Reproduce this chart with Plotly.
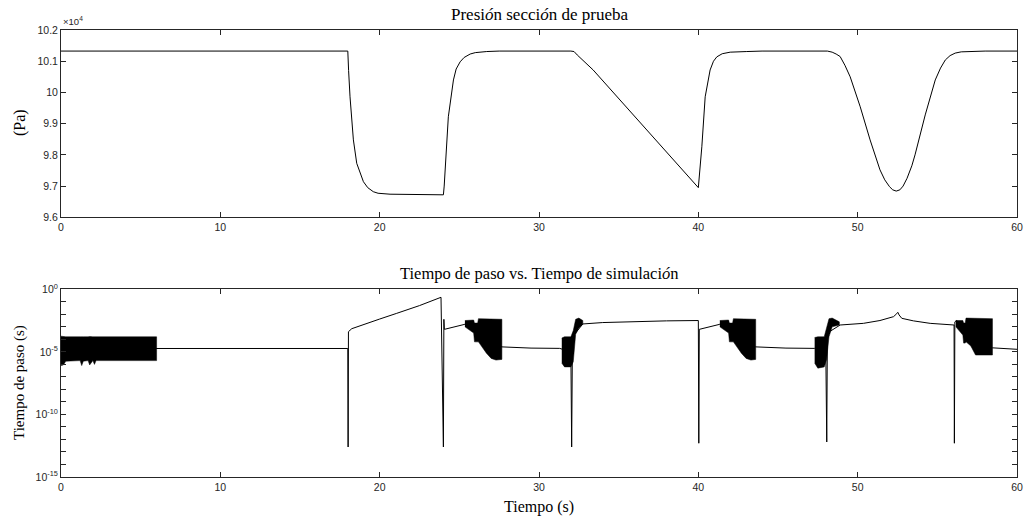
import plotly.graph_objects as go

# ---------------- Presión en la sección de prueba (Pa) ----------------
t_pres = [0.0, 18.0, 18.05, 18.14, 18.35, 18.56, 18.98, 19.25, 19.6, 19.9, 20.65, 24.0,
          24.05, 24.1, 24.31, 24.63, 24.8, 25.05, 25.3, 25.68, 26.0, 26.72, 27.5,
          32.0, 32.2, 32.4, 33.4, 40.0, 40.1, 40.22, 40.43, 40.6, 40.74, 40.95, 41.16, 41.5,
          42.0, 43.04, 44.0, 48.1, 48.4, 48.65, 48.9, 49.2, 49.53, 50.16, 50.78, 51.4, 51.7,
          52.0, 52.2, 52.42, 52.65, 52.85, 53.1, 53.4, 53.6, 54.24, 54.87, 55.2, 55.5, 55.8,
          56.12, 56.5, 57.06, 58.0, 60.0]
p_pres = [101325, 101325, 100700, 99860, 98480, 97730, 97140, 96950, 96820, 96770, 96740, 96720,
          97000, 97410, 99220, 100400, 100750, 100980, 101120, 101230, 101275, 101310, 101325,
          101325, 101310, 101200, 100720, 96950, 97550, 98260, 99860, 100400, 100720, 101000, 101140, 101240,
          101290, 101310, 101325, 101325, 101290, 101230, 101150, 100870, 100500, 99540, 98480, 97520, 97200,
          96980, 96880, 96840, 96880, 97000, 97250, 97650, 98000, 99280, 100400, 100780, 101040, 101180,
          101260, 101300, 101315, 101325, 101325]

# ---------------- Paso de integración (s) ----------------
t_paso = [0.0, 18.0, 18.02, 18.04, 18.25, 19.0, 19.4, 20.0, 21.07, 22.5, 23.85,
          24.0, 24.03, 24.06, 25.35, 27.67, 29.5, 31.3, 32.0, 32.05, 32.1, 32.75,
          34.0, 36.0, 38.0, 40.0, 40.03, 40.06, 41.35, 43.6, 45.5, 47.3, 48.0,
          48.06, 48.1, 48.9, 50.36, 51.4, 52.0, 52.25, 52.45, 52.52, 52.6, 52.77,
          53.5, 54.55, 56.05, 56.07, 56.1, 56.2, 58.46, 60.0]
dt_paso = [1.86e-5, 1.86e-5, 2.5e-13, 4.1e-4, 7.1e-4, 1.6e-3, 2.5e-3, 4.2e-3, 1.2e-2, 5.0e-2, 0.23,
           2.5e-13, 4.0e-3, 6.3e-4, 1.6e-3, 2.5e-5, 2.0e-5, 1.9e-5, 1.0e-5, 2.5e-13, 1.6e-4, 1.7e-3,
           2.2e-3, 2.7e-3, 3.0e-3, 3.2e-3, 5.0e-13, 6.3e-4, 1.6e-3, 2.5e-5, 2.0e-5, 1.9e-5, 1.0e-5,
           6.3e-13, 3.2e-4, 1.4e-3, 1.9e-3, 3.2e-3, 5.0e-3, 6.5e-3, 1.12e-2, 1.45e-2, 8.9e-3, 4.8e-3,
           3.0e-3, 1.9e-3, 1.4e-3, 5.0e-13, 2.5e-3, 3.2e-3, 2.1e-5, 1.6e-5]

# Zonas de oscilación rápida del paso: envolvente superior / inferior
osc_a_t = [0.0, 0.15, 0.3, 1.2, 1.3, 1.4, 1.7, 1.8, 2.0, 2.1, 2.2, 4.0, 6.0]
osc_a_hi = [1.8e-4, 1.6e-4, 1.6e-4, 1.6e-4, 1.7e-4, 1.6e-4, 1.6e-4, 1.7e-4, 1.6e-4, 1.6e-4, 1.6e-4, 1.7e-4, 1.6e-4]
osc_a_lo = [8e-7, 9e-7, 1.8e-6, 2e-6, 8e-7, 1.8e-6, 2e-6, 9e-7, 2e-6, 1e-6, 2e-6, 2e-6, 2e-6]

osc_b_t = [25.35, 25.9, 25.95, 26.15, 26.2, 26.7, 27.0, 27.3, 27.67]
osc_b_hi = [3.2e-3, 3.5e-3, 2.0e-3, 2.0e-3, 4.5e-3, 4.5e-3, 4.0e-3, 4.0e-3, 4.0e-3]
osc_b_lo = [1.0e-3, 3.2e-4, 6.3e-5, 6.3e-5, 6.3e-5, 7.9e-6, 3.0e-6, 2.2e-6, 2.5e-6]

osc_c_t = [31.43, 31.6, 32.0, 32.15, 32.3, 32.5, 32.75]
osc_c_hi = [1.26e-4, 1.6e-4, 1.6e-4, 5.0e-4, 4.0e-3, 5.0e-3, 3.2e-3]
osc_c_lo = [1.26e-6, 6.3e-7, 6.3e-7, 1.6e-6, 2.5e-4, 7.9e-4, 1.6e-3]

osc_d_t = [41.35, 41.9, 41.95, 42.15, 42.2, 42.7, 43.0, 43.3, 43.6]
osc_d_hi = [3.2e-3, 3.5e-3, 2.0e-3, 2.0e-3, 4.5e-3, 4.5e-3, 4.0e-3, 4.0e-3, 4.0e-3]
osc_d_lo = [1.0e-3, 3.2e-4, 6.3e-5, 6.3e-5, 6.3e-5, 7.9e-6, 3.0e-6, 2.2e-6, 2.5e-6]

osc_e_t = [47.3, 47.5, 47.9, 48.05, 48.2, 48.4, 48.85]
osc_e_hi = [1.4e-4, 1.6e-4, 1.6e-4, 1.0e-3, 4.5e-3, 5.0e-3, 2.5e-3]
osc_e_lo = [1.26e-6, 5.0e-7, 6.3e-7, 2.5e-6, 1.6e-4, 1.0e-3, 1.4e-3]

osc_f_t = [56.16, 56.6, 56.65, 56.75, 56.8, 57.1, 57.4, 57.7, 58.46]
osc_f_hi = [3.2e-3, 3.2e-3, 2.0e-3, 2.0e-3, 5.0e-3, 5.0e-3, 5.0e-3, 4.5e-3, 4.5e-3]
osc_f_lo = [1.0e-3, 2.2e-4, 5.0e-5, 5.0e-5, 6.3e-5, 3.0e-5, 5.6e-6, 5.6e-6, 5.6e-6]

bandas = [(osc_a_t, osc_a_hi, osc_a_lo), (osc_b_t, osc_b_hi, osc_b_lo),
          (osc_c_t, osc_c_hi, osc_c_lo), (osc_d_t, osc_d_hi, osc_d_lo),
          (osc_e_t, osc_e_hi, osc_e_lo), (osc_f_t, osc_f_hi, osc_f_lo)]

# Ticks
x_ticks = [0, 10, 20, 30, 40, 50, 60]
p_ticks = [9.6, 9.7, 9.8, 9.9, 10.0, 10.1, 10.2]
p_ticktext = ["9.6", "9.7", "9.8", "9.9", "10", "10.1", "10.2"]
dt_decadas = list(range(0, -16, -1))

W, H = 1026, 516
x0, x1 = 61, 1017
top_y0, top_y1 = 30, 217.3
bot_y0, bot_y1 = 289.3, 477

AX = "#262626"
SANS = "Liberation Sans, Arial, sans-serif"
SERIF = "Liberation Serif, Times New Roman, serif"

fig = go.Figure()

fig.add_trace(go.Scatter(x=t_pres, y=[p / 1e4 for p in p_pres], mode="lines",
                         line=dict(color="black", width=1), xaxis="x", yaxis="y",
                         showlegend=False, hoverinfo="skip"))

for bt, bhi, blo in bandas:
    fig.add_trace(go.Scatter(x=bt + bt[::-1], y=bhi + blo[::-1], mode="lines",
                             fill="toself", fillcolor="black",
                             line=dict(color="black", width=0.5),
                             xaxis="x2", yaxis="y2", showlegend=False, hoverinfo="skip"))

fig.add_trace(go.Scatter(x=t_paso, y=dt_paso, mode="lines",
                         line=dict(color="black", width=1), xaxis="x2", yaxis="y2",
                         showlegend=False, hoverinfo="skip"))

axis_common = dict(showline=True, linecolor=AX, linewidth=1, mirror="ticks",
                   ticks="inside", ticklen=5, tickcolor=AX, tickwidth=1,
                   showgrid=False, zeroline=False, automargin=False,
                   tickfont=dict(family=SANS, size=10.5, color=AX))

xdom = [x0 / W, x1 / W]
fig.update_layout(
    width=W, height=H,
    margin=dict(l=0, r=0, t=0, b=0, pad=0, autoexpand=False),
    paper_bgcolor="white", plot_bgcolor="white",
    xaxis=dict(domain=xdom, range=[0, 60], tickvals=x_ticks, anchor="y", **axis_common),
    yaxis=dict(domain=[1 - top_y1 / H, 1 - top_y0 / H], range=[9.6, 10.2],
               tickvals=p_ticks, ticktext=p_ticktext, anchor="x", **axis_common),
    xaxis2=dict(domain=xdom, range=[0, 60], tickvals=x_ticks, anchor="y2", **axis_common),
    yaxis2=dict(domain=[1 - bot_y1 / H, 1 - bot_y0 / H], type="log", range=[-15, 0],
                tickvals=[10.0 ** d for d in dt_decadas],
                ticktext=[("10<sup>%d</sup>" % d) if d % 5 == 0 else "" for d in dt_decadas],
                anchor="x2", **axis_common),
)

def txt(x, y, s, size, family=SERIF, angle=0, xanchor="center", yanchor="middle", color="black"):
    fig.add_annotation(x=x / W, y=1 - y / H, xref="paper", yref="paper", text=s,
                       showarrow=False, textangle=angle, xanchor=xanchor, yanchor=yanchor,
                       font=dict(family=family, size=size, color=color))

xc = (x0 + x1) / 2
txt(xc, 14, "Presi<i>ó</i>n secci<i>ó</i>n de prueba", 17)
txt(xc, 273, "Tiempo de paso vs. Tiempo de simulaci<i>ó</i>n", 16.5)
txt(xc, 507, "Tiempo (s)", 16)
txt(20, 123, "(Pa)", 16, angle=-90)
txt(19, 383, "Tiempo de paso (s)", 15, angle=-90)
txt(61, 29, "×10<sup>4</sup>", 9.5, family=SANS, xanchor="left", yanchor="bottom", color=AX)

fig.write_html("out.html")
